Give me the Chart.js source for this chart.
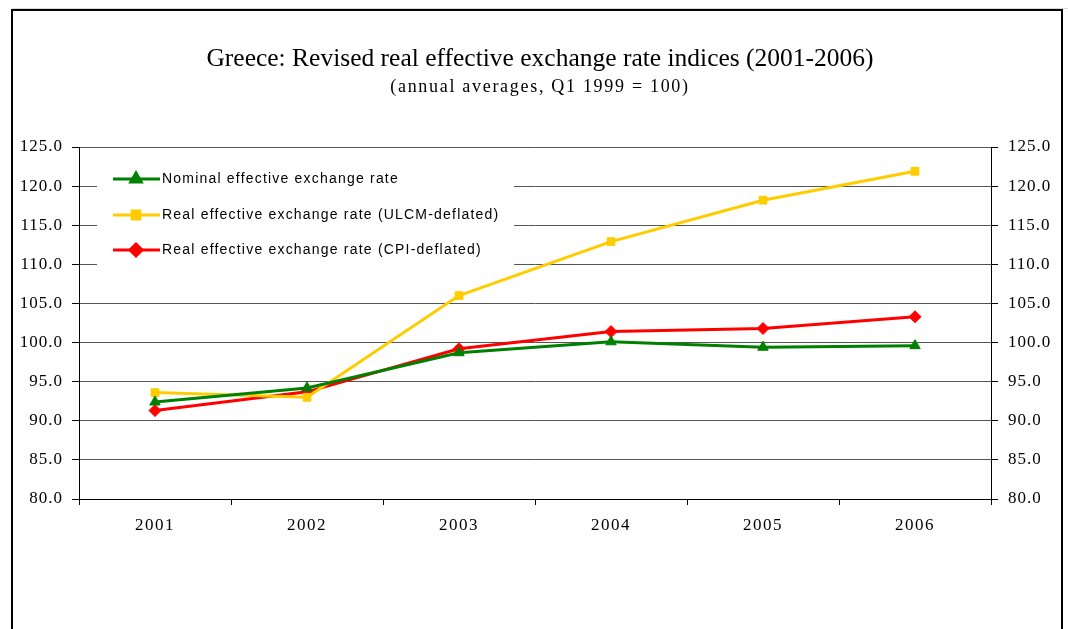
<!DOCTYPE html>
<html>
<head>
<meta charset="utf-8">
<script src="https://cdn.jsdelivr.net/npm/chart.js@4/dist/chart.umd.min.js"></script>
<style>
html,body{margin:0;padding:0;background:#fff;}
canvas{display:block;}
</style>
</head>
<body>
<canvas id="c" width="1068" height="629"></canvas>
<script>
const titleText = 'Greece: Revised real effective exchange rate indices (2001-2006)';
const subtitleText = '(annual averages, Q1 1999 = 100)';
const years = ['2001', '2002', '2003', '2004', '2005', '2006'];
const seriesLabels = [
  'Nominal effective exchange rate',
  'Real effective exchange rate (ULCM-deflated)',
  'Real effective exchange rate (CPI-deflated)'
];
const nominalEER = [92.4, 94.2, 98.7, 100.1, 99.4, 99.6];
const realEERulcm = [93.6, 93.0, 106.0, 112.9, 118.2, 121.9];
const realEERcpi = [91.3, 93.7, 99.2, 101.4, 101.8, 103.3];
const yMin = 80, yMax = 125, yStep = 5;

const colors = ['#008000', '#FFCC00', '#FF0000'];
const styles = ['triangle', 'rect', 'rectRot'];
const radii = [6, 5.5, 6];
const values = [nominalEER, realEERulcm, realEERcpi];

function spaced(spacing) {
  return function (scale) {
    if (!scale._spacedPatch) {
      const orig = scale.drawLabels.bind(scale);
      scale.drawLabels = function (ca) {
        const ctx = scale.ctx;
        ctx.save();
        ctx.letterSpacing = spacing;
        orig(ca);
        ctx.restore();
      };
      scale._spacedPatch = true;
    }
  };
}

const framePlugin = {
  id: 'frame',
  beforeDraw(chart) {
    const ctx = chart.ctx;
    ctx.save();
    ctx.fillStyle = '#fff';
    ctx.fillRect(0, 0, chart.width, chart.height);
    ctx.strokeStyle = '#d8d8d8';
    ctx.lineWidth = 1;
    ctx.beginPath();
    ctx.moveTo(12, 8.5); ctx.lineTo(1068, 8.5);
    ctx.stroke();
    ctx.strokeStyle = '#000';
    ctx.lineWidth = 2;
    ctx.strokeRect(12, 10, 1050, 700);
    // titles
    ctx.fillStyle = '#000';
    ctx.textAlign = 'center';
    ctx.textBaseline = 'middle';
    ctx.font = '25.5px "Liberation Serif"';
    ctx.fillText(titleText, 540, 59);
    ctx.font = '18px "Liberation Serif"';
    ctx.letterSpacing = '1.7px';
    ctx.fillText(subtitleText, 540, 87);
    ctx.restore();
  },
  beforeDatasetsDraw(chart) {
    const ctx = chart.ctx;
    ctx.save();
    ctx.fillStyle = '#fff';
    ctx.fillRect(97, 156, 417, 114);
    const rows = [179, 215, 250];
    chart.data.datasets.forEach((ds, i) => {
      const y = rows[i];
      ctx.strokeStyle = ds.borderColor;
      ctx.lineWidth = 3;
      ctx.beginPath();
      ctx.moveTo(113, y); ctx.lineTo(160, y);
      ctx.stroke();
      ctx.fillStyle = ds.pointBackgroundColor;
      ctx.strokeStyle = ds.pointBorderColor;
      Chart.helpers.drawPoint(ctx, {pointStyle: ds.pointStyle, radius: ds.pointRadius, borderWidth: 1, rotation: 0}, 136, y);
      ctx.fillStyle = '#000';
      ctx.font = '14px "Liberation Sans"';
      ctx.letterSpacing = '1.2px';
      ctx.textAlign = 'left';
      ctx.textBaseline = 'middle';
      ctx.fillText(ds.label, 162, y);
      ctx.letterSpacing = '0px';
    });
    ctx.restore();
  }
};

const datasets = seriesLabels.map((label, i) => ({
  label: label,
  data: values[i],
  borderColor: colors[i],
  backgroundColor: colors[i],
  pointBackgroundColor: colors[i],
  pointBorderColor: colors[i],
  pointStyle: styles[i],
  pointRadius: radii[i],
  pointBorderWidth: 1,
  borderWidth: 3,
  tension: 0,
  yAxisID: 'y'
}));

new Chart(document.getElementById('c'), {
  type: 'line',
  data: { labels: years, datasets: datasets },
  plugins: [framePlugin],
  options: {
    responsive: false,
    animation: false,
    devicePixelRatio: 1,
    layout: { padding: { top: 147, left: 0, right: 0, bottom: 0 } },
    plugins: {
      legend: { display: false },
      title: { display: false },
      tooltip: { enabled: false }
    },
    scales: {
      x: {
        type: 'category',
        offset: true,
        afterFit(s) { s.height = 130; },
        afterUpdate: spaced('1.5px'),
        border: { display: true, color: '#000', width: 1 },
        grid: { display: true, offset: true, drawOnChartArea: false, drawTicks: true, tickLength: 6, tickColor: '#000' },
        ticks: { color: '#000', padding: 10, font: { family: 'Liberation Serif', size: 17 }, maxRotation: 0 }
      },
      y: {
        position: 'left',
        min: yMin, max: yMax,
        afterFit(s) { s.width = 79; },
        afterUpdate: spaced('1px'),
        border: { display: true, color: '#000', width: 1 },
        grid: { color: '#555', lineWidth: 1, drawTicks: true, tickLength: 7, tickColor: '#000' },
        ticks: { stepSize: yStep, color: '#000', padding: 9, font: { family: 'Liberation Serif', size: 17 }, callback: v => Number(v).toFixed(1) }
      },
      y2: {
        position: 'right',
        min: yMin, max: yMax,
        afterFit(s) { s.width = 77; },
        afterUpdate: spaced('1px'),
        border: { display: true, color: '#000', width: 1 },
        grid: { drawOnChartArea: false, drawTicks: true, tickLength: 7, tickColor: '#000' },
        ticks: { stepSize: yStep, color: '#000', padding: 10, font: { family: 'Liberation Serif', size: 17 }, callback: v => Number(v).toFixed(1) }
      }
    }
  }
});
</script>
</body>
</html>
